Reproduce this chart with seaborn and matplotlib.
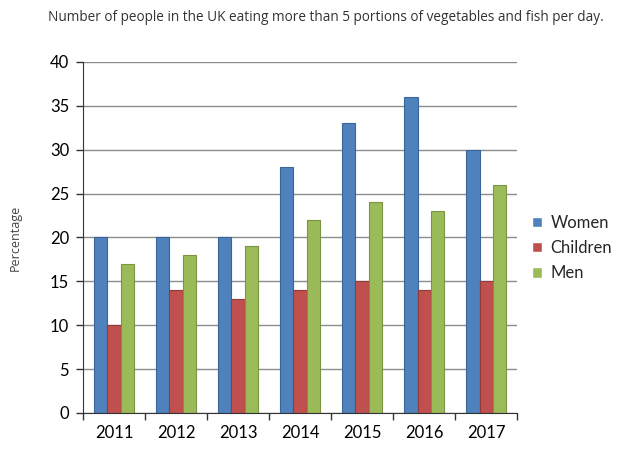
import numpy as np
import pandas as pd
import matplotlib
matplotlib.use("Agg")
import matplotlib.pyplot as plt
import seaborn as sns

# data
years = ["2011", "2012", "2013", "2014", "2015", "2016", "2017"]
women = [20, 20, 20, 28, 33, 36, 30]
children = [10, 14, 13, 14, 15, 14, 15]
men = [17, 18, 19, 22, 24, 23, 26]
groups = ["Women", "Children", "Men"]
colors = ["#4F81BD", "#C0504D", "#9BBB59"]
edges = ["#3A6597", "#943B39", "#7A9444"]

df = pd.DataFrame({
    "Year": years * 3,
    "Group": ["Women"] * 7 + ["Children"] * 7 + ["Men"] * 7,
    "Value": women + children + men,
})

sns.set_style("white")
plt.rcParams["font.family"] = ["Lato", "DejaVu Sans"]

fig = plt.figure(figsize=(6.24, 4.66), dpi=100)
ax = fig.add_axes([0.133, 0.114, 0.696, 0.753])

sns.barplot(data=df, x="Year", y="Value", hue="Group", hue_order=groups,
            palette=colors, width=0.65, ax=ax, saturation=1, legend=True)

# darker outline per series
for cont, ec in zip(ax.containers, edges):
    for bar in cont:
        bar.set_edgecolor(ec)
        bar.set_linewidth(0.8)

ax.set_ylim(0, 40)
ax.set_yticks(range(0, 41, 5))
ax.set_xlim(-0.5, 6.5)
ax.yaxis.grid(True, color="#8c8c8c", linewidth=1)
ax.set_axisbelow(True)

ax.spines["top"].set_visible(False)
ax.spines["right"].set_visible(False)
ax.spines["left"].set_color("#333333")
ax.spines["bottom"].set_color("#333333")

ax.tick_params(axis="y", which="major", left=True, length=5, width=1,
               color="#333333", labelsize=12, pad=5, labelcolor="black")
ax.tick_params(axis="x", which="major", length=0, labelsize=12, pad=9,
               labelcolor="black")
ax.set_xticks(np.arange(-0.5, 7, 1), minor=True)
ax.tick_params(axis="x", which="minor", bottom=True, length=5, width=1,
               color="#333333")

ax.set_xlabel("")
ax.set_ylabel("")
fig.text(0.025, 0.49, "Percentage", rotation=90, ha="center", va="center",
         fontsize=9, color="#444444", family="Open Sans")
fig.text(0.523, 0.962,
         "Number of people in the UK eating more than 5 portions of vegetables and fish per day.",
         ha="center", va="center", fontsize=9.8, color="#333333",
         family="Open Sans")

leg = ax.legend(loc="center left", bbox_to_anchor=(1.0, 0.47), frameon=False,
                fontsize=12, handlelength=0.6, handleheight=0.6,
                handletextpad=0.5, labelspacing=0.55)

fig.savefig("out.png", dpi=100)
